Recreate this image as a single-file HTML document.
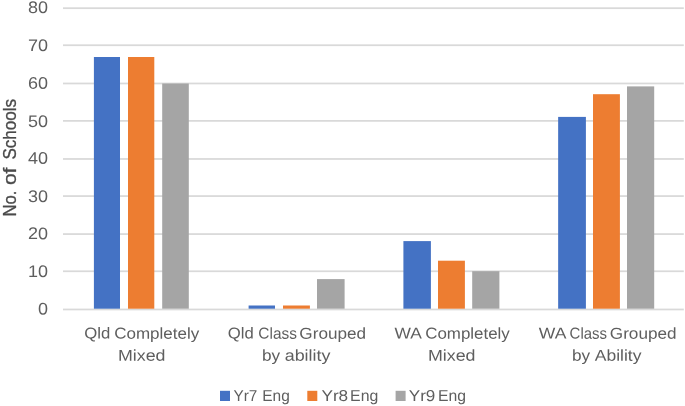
<!DOCTYPE html>
<html lang="en"><head><meta charset="utf-8"><title>Chart</title>
<style>
html,body{margin:0;padding:0;background:#fff;}
body{width:685px;height:406px;overflow:hidden;}
svg{display:block;}
text{font-family:"Liberation Sans",sans-serif;fill:#5e5e5e;}
.t{font-size:16.8px;}
.c{font-size:15.8px;}
.yt{font-size:17.5px;fill:#4a4a4a;stroke:#4a4a4a;stroke-width:0.3px;}
</style></head><body>
<svg width="685" height="406" viewBox="0 0 685 406">
<rect x="0" y="0" width="685" height="406" fill="#ffffff"/>
<rect x="63" y="7.30" width="620.8" height="1.75" fill="#D9D9D9"/>
<rect x="63" y="44.35" width="620.8" height="1.75" fill="#D9D9D9"/>
<rect x="63" y="82.60" width="620.8" height="1.75" fill="#D9D9D9"/>
<rect x="63" y="120.00" width="620.8" height="1.75" fill="#D9D9D9"/>
<rect x="63" y="158.10" width="620.8" height="1.75" fill="#D9D9D9"/>
<rect x="63" y="195.20" width="620.8" height="1.75" fill="#D9D9D9"/>
<rect x="63" y="233.20" width="620.8" height="1.75" fill="#D9D9D9"/>
<rect x="63" y="270.40" width="620.8" height="1.75" fill="#D9D9D9"/>
<rect x="63" y="308.60" width="620.8" height="1.75" fill="#D9D9D9"/>
<rect x="93.9" y="57.00" width="26.10" height="251.70" fill="#4472C4"/>
<rect x="128.0" y="57.00" width="26.30" height="251.70" fill="#ED7D31"/>
<rect x="162.2" y="83.50" width="26.60" height="225.20" fill="#A5A5A5"/>
<rect x="248.6" y="305.50" width="26.40" height="3.20" fill="#4472C4"/>
<rect x="283.0" y="305.50" width="26.90" height="3.20" fill="#ED7D31"/>
<rect x="317.0" y="279.10" width="27.60" height="29.60" fill="#A5A5A5"/>
<rect x="403.4" y="241.10" width="27.50" height="67.60" fill="#4472C4"/>
<rect x="438.0" y="260.70" width="26.90" height="48.00" fill="#ED7D31"/>
<rect x="472.2" y="271.20" width="27.20" height="37.50" fill="#A5A5A5"/>
<rect x="558.15" y="116.90" width="27.75" height="191.80" fill="#4472C4"/>
<rect x="593.0" y="94.20" width="26.90" height="214.50" fill="#ED7D31"/>
<rect x="627.0" y="86.40" width="27.20" height="222.30" fill="#A5A5A5"/>
<text class="t" x="47.9" y="13.1" transform="rotate(0.05 47.9 13.1)" text-anchor="end" textLength="20.0" lengthAdjust="spacingAndGlyphs">80</text>
<text class="t" x="47.9" y="50.95" transform="rotate(0.05 47.9 50.95)" text-anchor="end" textLength="20.0" lengthAdjust="spacingAndGlyphs">70</text>
<text class="t" x="47.9" y="88.75" transform="rotate(0.05 47.9 88.75)" text-anchor="end" textLength="20.0" lengthAdjust="spacingAndGlyphs">60</text>
<text class="t" x="47.9" y="126.95" transform="rotate(0.05 47.9 126.95)" text-anchor="end" textLength="20.0" lengthAdjust="spacingAndGlyphs">50</text>
<text class="t" x="47.9" y="163.8" transform="rotate(0.05 47.9 163.8)" text-anchor="end" textLength="20.0" lengthAdjust="spacingAndGlyphs">40</text>
<text class="t" x="47.9" y="201.95" transform="rotate(0.05 47.9 201.95)" text-anchor="end" textLength="20.0" lengthAdjust="spacingAndGlyphs">30</text>
<text class="t" x="47.9" y="239.15" transform="rotate(0.05 47.9 239.15)" text-anchor="end" textLength="20.0" lengthAdjust="spacingAndGlyphs">20</text>
<text class="t" x="47.9" y="276.95" transform="rotate(0.05 47.9 276.95)" text-anchor="end" textLength="20.0" lengthAdjust="spacingAndGlyphs">10</text>
<text class="t" x="47.9" y="314.45" transform="rotate(0.05 47.9 314.45)" text-anchor="end" textLength="10.0" lengthAdjust="spacingAndGlyphs">0</text>
<text class="yt" y="0" transform="translate(16 215.5) rotate(-90)"><tspan x="-1" textLength="26.0" lengthAdjust="spacingAndGlyphs">No.</tspan> <tspan x="30.4" textLength="17.6" lengthAdjust="spacingAndGlyphs">of</tspan> <tspan x="55.9" textLength="60.6" lengthAdjust="spacingAndGlyphs">Schools</tspan></text>
<text class="c" y="338.6" transform="rotate(0.05 84.19 338.6)"><tspan x="84.19" textLength="26.04" lengthAdjust="spacingAndGlyphs">Qld</tspan> <tspan x="114.21" textLength="85.03" lengthAdjust="spacingAndGlyphs">Completely</tspan></text>
<text class="c" y="360.7" transform="rotate(0.05 117.96 360.7)"><tspan x="117.96" textLength="47.53" lengthAdjust="spacingAndGlyphs">Mixed</tspan></text>
<text class="c" y="338.6" transform="rotate(0.05 227.72 338.6)"><tspan x="227.72" textLength="25.99" lengthAdjust="spacingAndGlyphs">Qld</tspan> <tspan x="258.37" textLength="38.55" lengthAdjust="spacingAndGlyphs">Class</tspan> <tspan x="299.39" textLength="66.70" lengthAdjust="spacingAndGlyphs">Grouped</tspan></text>
<text class="c" y="360.7" transform="rotate(0.05 262.08 360.7)"><tspan x="262.08" textLength="18.12" lengthAdjust="spacingAndGlyphs">by</tspan> <tspan x="284.72" textLength="45.73" lengthAdjust="spacingAndGlyphs">ability</tspan></text>
<text class="c" y="338.6" transform="rotate(0.05 394.59 338.6)"><tspan x="394.59" textLength="26.40" lengthAdjust="spacingAndGlyphs">WA</tspan> <tspan x="425.22" textLength="84.54" lengthAdjust="spacingAndGlyphs">Completely</tspan></text>
<text class="c" y="360.7" transform="rotate(0.05 427.92 360.7)"><tspan x="427.92" textLength="47.56" lengthAdjust="spacingAndGlyphs">Mixed</tspan></text>
<text class="c" y="338.6" transform="rotate(0.05 538.72 338.6)"><tspan x="538.72" textLength="26.66" lengthAdjust="spacingAndGlyphs">WA</tspan> <tspan x="569.60" textLength="37.42" lengthAdjust="spacingAndGlyphs">Class</tspan> <tspan x="609.82" textLength="66.79" lengthAdjust="spacingAndGlyphs">Grouped</tspan></text>
<text class="c" y="360.7" transform="rotate(0.05 572.08 360.7)"><tspan x="572.08" textLength="18.12" lengthAdjust="spacingAndGlyphs">by</tspan> <tspan x="594.79" textLength="46.61" lengthAdjust="spacingAndGlyphs">Ability</tspan></text>
<text class="c" y="400.9" transform="rotate(0.05 233.50 400.9)"><tspan x="233.50" textLength="23.86" lengthAdjust="spacingAndGlyphs">Yr7</tspan> <tspan x="262.23" textLength="27.52" lengthAdjust="spacingAndGlyphs">Eng</tspan></text>
<text class="c" y="400.9" transform="rotate(0.05 321.43 400.9)"><tspan x="321.43" textLength="26.77" lengthAdjust="spacingAndGlyphs">Yr8</tspan> <tspan x="350.11" textLength="28.21" lengthAdjust="spacingAndGlyphs">Eng</tspan></text>
<text class="c" y="400.9" transform="rotate(0.05 408.75 400.9)"><tspan x="408.75" textLength="26.58" lengthAdjust="spacingAndGlyphs">Yr9</tspan> <tspan x="438.03" textLength="28.02" lengthAdjust="spacingAndGlyphs">Eng</tspan></text>
<rect x="220.0" y="390.8" width="10" height="10.2" fill="#4472C4"/>
<rect x="307.3" y="390.8" width="10" height="10.2" fill="#ED7D31"/>
<rect x="395.6" y="390.8" width="10" height="10.2" fill="#A5A5A5"/>
</svg>
</body></html>
